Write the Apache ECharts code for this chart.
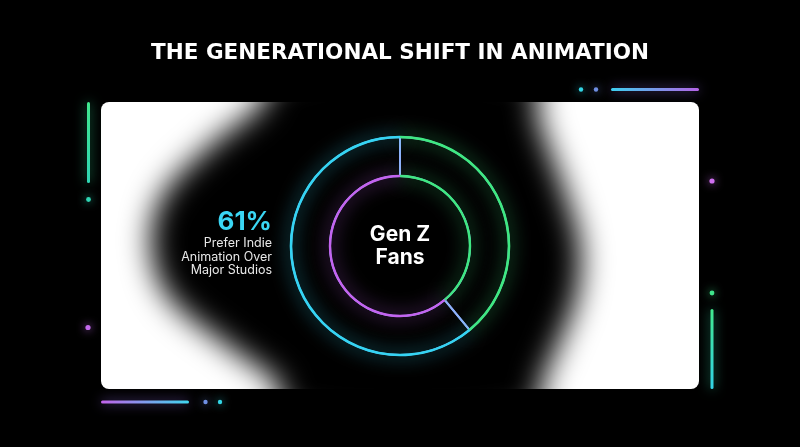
<!DOCTYPE html>
<html><head><meta charset="utf-8">
<script src="https://cdn.jsdelivr.net/npm/echarts@6/dist/echarts.min.js"></script>
<style>html,body{margin:0;background:#000}#c{width:800px;height:447px}</style>
</head><body><div id="c"></div>
<script>
const titleText = 'THE GENERATIONAL SHIFT IN ANIMATION';
const segments = ['Other', 'Prefer Indie Animation'];
const shares = [39, 61];
const centerLabel = ['Gen Z', 'Fans'];
const calloutLines = ['Prefer Indie', 'Animation Over', 'Major Studios'];
const highlightIndex = 1;

const chart = echarts.init(document.getElementById('c'));
const C = [400, 246];
const FONT = 'Inter';

function pieData(colors, glow) {
  return segments.map((n, i) => ({
    name: n, value: shares[i],
    itemStyle: { color: colors[i], shadowColor: colors[i], shadowBlur: glow, borderWidth: 0 }
  }));
}
const OFF = 3000;
// soft dark backdrop outline (decoration)
const blobOutline = [[275,78],[400,58],[540,80],[536,108],[566,195],[580,245],[577,295],[558,345],[541,385],[536,412],
  [400,425],[282,412],[280,386],[228,346],[168,296],[151,245],[163,195],[210,146],[262,104]];
function grad(c1, c2, vertical) {
  return { type: 'linear', x: 0, y: 0, x2: vertical ? 0 : 1, y2: vertical ? 1 : 0,
    colorStops: [{ offset: 0, color: c1 }, { offset: 1, color: c2 }] };
}
function hbar(x1, x2, y, c1, c2, glow) {
  return { type: 'rect', z: 1, silent: true, shape: { x: x1, y: y - 1.5, width: x2 - x1, height: 3, r: 1.5 },
    style: { fill: grad(c1, c2, false), shadowBlur: 12, shadowColor: glow } };
}
function vbar(x, y1, y2, c1, c2, glow) {
  return { type: 'rect', z: 1, silent: true, shape: { x: x - 1.5, y: y1, width: 3, height: y2 - y1, r: 1.5 },
    style: { fill: grad(c1, c2, true), shadowBlur: 12, shadowColor: glow } };
}
function dot(x, y, r, c) {
  return { type: 'circle', z: 1, silent: true, shape: { cx: x, cy: y, r: r },
    style: { fill: c, shadowBlur: 8, shadowColor: c } };
}

const option = {
  backgroundColor: '#000',
  animation: false,
  title: {
    text: titleText, left: 'center', top: 37,
    textStyle: { color: '#fff', fontSize: 21.5, fontWeight: 'bold', fontFamily: 'DejaVu Sans' }
  },
  graphic: { elements: [
    { type: 'rect', z: 0, silent: true, shape: { x: 101, y: 102, width: 598, height: 287, r: 8 }, style: { fill: '#fff' } },
    { type: 'polygon', z: 1, silent: true, shape: { points: blobOutline.map(p => [p[0] - OFF, p[1]]), smooth: 0.35 },
      style: { fill: '#000', shadowColor: '#000', shadowBlur: 30, shadowOffsetX: OFF } },
    hbar(611, 699, 89.5, '#3dcff0', '#b463e6', 'rgba(150,110,240,0.7)'),
    dot(581, 89.5, 2.2, '#33d6e6'),
    dot(596, 89.5, 2.2, '#6f8fe3'),
    dot(712, 181, 2.6, '#cf6ff0'),
    vbar(88.5, 102, 183, '#41e88e', '#2fd6b4', 'rgba(50,220,150,0.7)'),
    dot(88.5, 199.5, 2.4, '#2fd6b4'),
    dot(88, 327.5, 2.6, '#c46aee'),
    hbar(101, 189, 402, '#c262ea', '#3fd7f0', 'rgba(150,110,240,0.7)'),
    dot(205.5, 402, 2.2, '#6f8fe3'),
    dot(220, 402, 2.2, '#33d6e6'),
    dot(712, 293, 2.4, '#3fe68c'),
    vbar(712, 309, 389, '#41e88e', '#32d2e6', 'rgba(50,220,170,0.7)'),
    { type: 'text', z: 10, silent: true, style: {
      text: centerLabel.join('\n'), x: C[0], y: C[1], align: 'center', verticalAlign: 'middle',
      textAlign: 'center', textVerticalAlign: 'middle', lineHeight: 23,
      font: 'bold 21px ' + FONT, fill: '#fff' } },
    { type: 'text', z: 10, silent: true, style: {
      text: shares[highlightIndex] + '%', x: 272, y: 222, align: 'right', verticalAlign: 'middle',
      textAlign: 'right', textVerticalAlign: 'middle',
      font: 'bold 26px ' + FONT, fill: '#3ad6f4', shadowColor: 'rgba(58,214,244,0.7)', shadowBlur: 8 } },
    { type: 'text', z: 10, silent: true, style: {
      text: calloutLines.join('\n'), x: 272, y: 257, align: 'right', verticalAlign: 'middle',
      textAlign: 'right', textVerticalAlign: 'middle', lineHeight: 13.3,
      font: '12.5px ' + FONT, fill: '#e8e8e8' } }
  ] },
  series: [
    { type: 'pie', z: 2, silent: true, center: C, radius: [70, 109], startAngle: 90, clockwise: true,
      label: { show: false }, labelLine: { show: false },
      itemStyle: { color: 'rgba(0,0,0,0)', borderColor: '#8fb2ff', borderWidth: 2 },
      data: segments.map((n, i) => ({ name: n, value: shares[i] })) },
    { type: 'pie', z: 3, silent: true, center: C, radius: [107.7, 110.3], startAngle: 90, clockwise: true,
      label: { show: false }, labelLine: { show: false },
      data: pieData(['#3fe882', '#35d4f3'], 18) },
    { type: 'pie', z: 3, silent: true, center: C, radius: [68.8, 71.2], startAngle: 90, clockwise: true,
      label: { show: false }, labelLine: { show: false },
      data: pieData(['#3fe882', '#c464f0'], 18) }
  ]
};
chart.setOption(option);
</script></body></html>
